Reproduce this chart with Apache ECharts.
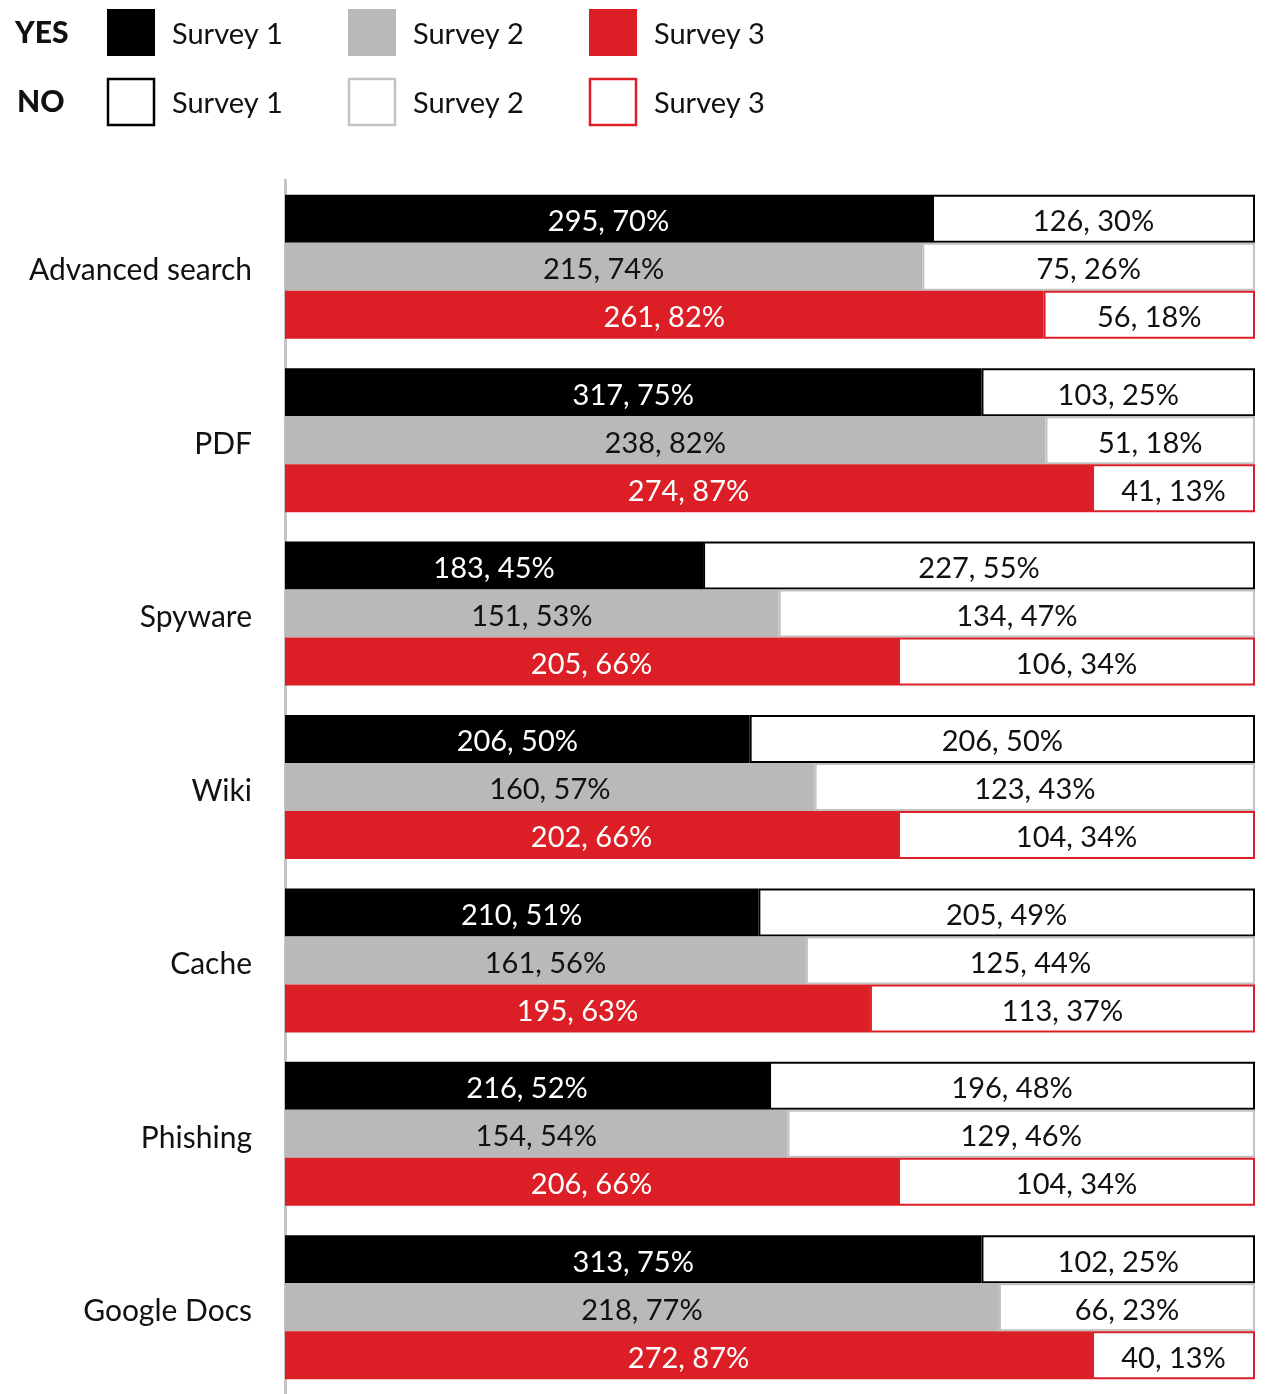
<!DOCTYPE html>
<html>
<head>
<meta charset="utf-8">
<script src="https://cdn.jsdelivr.net/npm/echarts@6/dist/echarts.min.js"></script>
<style>
html,body{margin:0;padding:0;background:#fff;}
#chart{width:1274px;height:1394px;}
</style>
</head>
<body>
<div id="chart"></div>
<script>
// ---- data ----
var categories = ['Advanced search', 'PDF', 'Spyware', 'Wiki', 'Cache', 'Phishing', 'Google Docs'];
var surveyNames = ['Survey 1', 'Survey 2', 'Survey 3'];

// YES counts / percents
var yesCount1 = [295, 317, 183, 206, 210, 216, 313];
var yesPct1   = [70, 75, 45, 50, 51, 52, 75];
var yesCount2 = [215, 238, 151, 160, 161, 154, 218];
var yesPct2   = [74, 82, 53, 57, 56, 54, 77];
var yesCount3 = [261, 274, 205, 202, 195, 206, 272];
var yesPct3   = [82, 87, 66, 66, 63, 66, 87];

// NO counts / percents
var noCount1 = [126, 103, 227, 206, 205, 196, 102];
var noPct1   = [30, 25, 55, 50, 49, 48, 25];
var noCount2 = [75, 51, 134, 123, 125, 129, 66];
var noPct2   = [26, 18, 47, 43, 44, 46, 23];
var noCount3 = [56, 41, 106, 104, 113, 104, 40];
var noPct3   = [18, 13, 34, 34, 37, 34, 13];

// YES bar length as drawn (share of full bar, %)
var barYes1 = [66.7, 71.8, 43.1, 47.9, 48.8, 49.9, 71.8];
var barYes2 = [65.7, 78.4, 50.9, 54.6, 53.7, 51.8, 73.6];
var barYes3 = [78.2, 83.2, 63.2, 63.2, 60.3, 63.2, 83.2];

// ---- styles ----
var FONT = 'Lato';
var TXT = '#111111';
var colors = ['#000000', '#bab9b7', '#dc1f26'];
var noBorders = ['#000000', '#c2c2c2', '#dc1f26'];
var yesLabelColors = ['#ffffff', '#111111', '#ffffff'];

var yesCounts = [yesCount1, yesCount2, yesCount3];
var yesPcts = [yesPct1, yesPct2, yesPct3];
var noCounts = [noCount1, noCount2, noCount3];
var noPcts = [noPct1, noPct2, noPct3];
var barYes = [barYes1, barYes2, barYes3];

var series = [];
for (var s = 0; s < 3; s++) {
  (function (s) {
    series.push({
      name: 'YES ' + surveyNames[s],
      type: 'bar',
      stack: 'st' + s,
      barWidth: 48,
      barGap: '0%',
      data: barYes[s],
      itemStyle: { color: colors[s] },
      label: {
        show: true, position: 'inside', offset: [0, 3],
        color: yesLabelColors[s], fontFamily: FONT, fontSize: 29,
        formatter: function (p) { return yesCounts[s][p.dataIndex] + ', ' + yesPcts[s][p.dataIndex] + '%'; }
      },
      emphasis: { disabled: true },
      animation: false
    });
    series.push({
      name: 'NO ' + surveyNames[s],
      type: 'bar',
      stack: 'st' + s,
      barWidth: 48,
      barGap: '0%',
      data: barYes[s].map(function (v) { return 100 - v; }),
      itemStyle: { color: '#ffffff', borderColor: noBorders[s], borderWidth: 2 },
      label: {
        show: true, position: 'inside', offset: [0, 3],
        color: TXT, fontFamily: FONT, fontSize: 29,
        formatter: function (p) { return noCounts[s][p.dataIndex] + ', ' + noPcts[s][p.dataIndex] + '%'; }
      },
      emphasis: { disabled: true },
      animation: false
    });
  })(s);
}

// legend drawn with graphic elements
var graphic = [];
graphic.push({ type: 'text', left: 15, top: 18, style: { text: 'YES', font: '900 30px ' + FONT, fill: TXT } });
graphic.push({ type: 'text', left: 17, top: 87, style: { text: 'NO', font: '900 30px ' + FONT, fill: TXT } });
var legX = [107, 348, 589];
for (var i = 0; i < 3; i++) {
  graphic.push({ type: 'rect', shape: { x: legX[i], y: 9, width: 48, height: 47 }, style: { fill: colors[i] } });
  graphic.push({ type: 'rect', shape: { x: legX[i] + 1, y: 79, width: 46, height: 46 }, style: { fill: '#fff', stroke: noBorders[i], lineWidth: 2.5 } });
  graphic.push({ type: 'text', left: legX[i] + 65, top: 20, style: { text: surveyNames[i], font: '29px ' + FONT, fill: TXT } });
  graphic.push({ type: 'text', left: legX[i] + 65, top: 89, style: { text: surveyNames[i], font: '29px ' + FONT, fill: TXT } });
}

var chart = echarts.init(document.getElementById('chart'), null, { renderer: 'canvas' });
chart.setOption({
  backgroundColor: '#ffffff',
  animation: false,
  grid: { left: 285, right: 19, top: 180, bottom: 0, containLabel: false },
  xAxis: { type: 'value', min: 0, max: 100, show: false },
  yAxis: {
    type: 'category', data: categories, inverse: true,
    axisLine: { show: true, lineStyle: { color: '#c4c4c4', width: 3 } },
    axisTick: { show: false },
    splitLine: { show: false },
    axisLabel: {
      margin: 33,
      formatter: function (v) { return '{c|' + v + '}'; },
      rich: { c: { fontFamily: FONT, fontSize: 30, color: TXT, padding: [8, 0, 0, 0] } }
    }
  },
  series: series,
  graphic: graphic
});
</script>
</body>
</html>
